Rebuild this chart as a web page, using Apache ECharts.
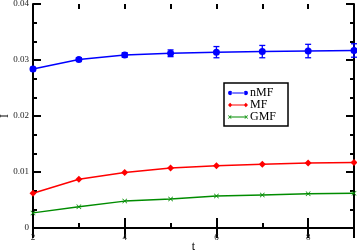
<!DOCTYPE html>
<html>
<head>
<meta charset="utf-8">
<script src="https://cdn.jsdelivr.net/npm/echarts@6/dist/echarts.min.js"></script>
<style>
html,body{margin:0;padding:0;background:#fff;}
#chart{width:357px;height:251px;}
</style>
</head>
<body>
<div id="chart"></div>
<script>
// ---- data ----
const tValues = [2, 3, 4, 5, 6, 7, 8, 9];
const nMF     = [0.0284, 0.0301, 0.0309, 0.0312, 0.0314, 0.0315, 0.0316, 0.0317];
const nMFErr  = [0.0003, 0.0003, 0.0004, 0.0006, 0.0010, 0.0011, 0.0012, 0.0012];
const MF      = [0.0062, 0.0087, 0.0099, 0.0107, 0.0111, 0.0114, 0.0116, 0.0117];
const GMF     = [0.0027, 0.0038, 0.0048, 0.0052, 0.0057, 0.0059, 0.0061, 0.0062];
const seriesNames = ['nMF', 'MF', 'GMF'];
const xTickValues = [2, 4, 6, 8];
const xTickLabels = ['2', '4', '6', '8'];
const yTickValues = [0, 0.01, 0.02, 0.03, 0.04];
const yTickLabels = ['0', '0.01', '0.02', '0.03', '0.04'];
const xAxisName = 't';
const yAxisName = 'I';

const FONT = 'Liberation Serif';
const BLUE = '#0000ff', RED = '#ff0000', GREEN = '#008c00';

const pairs = (ys) => tValues.map((t, i) => [t, ys[i]]);
const errData = tValues.map((t, i) => [t, nMF[i], nMFErr[i]]);
const lookup = (vals, labels) => (v) => {
  const n = Number(v);
  for (let i = 0; i < vals.length; i++) if (Math.abs(vals[i] - n) < 1e-9) return labels[i];
  return '';
};

const xSymbol = 'path://M0,1 L1,0 L5,4 L9,0 L10,1 L6,5 L10,9 L9,10 L5,6 L1,10 L0,9 L4,5 Z';

const legIconN = 'path://M0,4 a3,3 0 1,0 6,0 a3,3 0 1,0 -6,0 Z M5,3.3 L23,3.3 L23,4.7 L5,4.7 Z M22,4 a3,3 0 1,0 6,0 a3,3 0 1,0 -6,0 Z';
const legIconM = 'path://M0,4 L3,1 L6,4 L3,7 Z M5,3.3 L23,3.3 L23,4.7 L5,4.7 Z M22,4 L25,1 L28,4 L25,7 Z';
const legIconG = 'path://M0,2 L1,1.4 L2.5,3.2 L4,1.4 L5,2 L3.3,4 L5,6 L4,6.6 L2.5,4.8 L1,6.6 L0,6 L1.7,4 Z M4,3.4 L24,3.4 L24,4.6 L4,4.6 Z M23,2 L24,1.4 L25.5,3.2 L27,1.4 L28,2 L26.3,4 L28,6 L27,6.6 L25.5,4.8 L24,6.6 L23,6 L24.7,4 Z';

const gridRect = {left: 33, top: 4, width: 321, height: 224, containLabel: false, outerBoundsMode: 'none'};

const axisLine = {show: true, lineStyle: {color: '#000', width: 2}};
const labelStyle = {fontFamily: FONT, fontSize: 9, color: '#222'};

const chart = echarts.init(document.getElementById('chart'), null, {renderer: 'canvas'});
chart.setOption({
  animation: false,
  backgroundColor: '#fff',
  grid: [Object.assign({}, gridRect), Object.assign({}, gridRect)],
  legend: {
    left: 224, top: 83,
    orient: 'vertical',
    padding: [4, 12, 3, 4],
    itemGap: 0,
    itemWidth: 20, itemHeight: 6,
    borderColor: '#000', borderWidth: 1.5, backgroundColor: '#fff',
    textStyle: {fontFamily: FONT, fontSize: 12, color: '#000', lineHeight: 10.5, padding: [0,0,0,-3]},
    data: [
      {name: seriesNames[0], icon: legIconN},
      {name: seriesNames[1], icon: legIconM},
      {name: seriesNames[2], icon: legIconG}
    ]
  },
  xAxis: [
    { // bottom, major ticks and axis name
      gridIndex: 0, type: 'value', position: 'bottom', min: 2, max: 9, interval: 2,
      axisLine: axisLine,
      axisTick: {show: true, inside: true, length: 10, lineStyle: {color: '#000', width: 2}},
      axisLabel: {show: false},
      splitLine: {show: false},
      name: xAxisName, nameLocation: 'middle', nameGap: 13, nameMoveOverlap: false,
      nameTextStyle: {fontFamily: FONT, fontSize: 12, color: '#000'}
    },
    { // top, major ticks
      gridIndex: 0, type: 'value', position: 'top', min: 2, max: 9, interval: 2,
      axisLine: axisLine,
      axisTick: {show: true, inside: true, length: 10, lineStyle: {color: '#000', width: 2}},
      axisLabel: {show: false}, splitLine: {show: false}
    },
    { // bottom minor ticks + tick labels
      gridIndex: 1, type: 'value', position: 'bottom', min: 2, max: 9, interval: 1,
      axisLine: {show: false},
      axisTick: {show: true, inside: true, length: 5, lineStyle: {color: '#000', width: 2}},
      axisLabel: {show: true, margin: 5, ...labelStyle, formatter: lookup(xTickValues, xTickLabels)},
      splitLine: {show: false}
    },
    { // top minor ticks
      gridIndex: 1, type: 'value', position: 'top', min: 2, max: 9, interval: 1,
      axisLine: {show: false},
      axisTick: {show: true, inside: true, length: 5, lineStyle: {color: '#000', width: 2}},
      axisLabel: {show: false}, splitLine: {show: false}
    }
  ],
  yAxis: [
    {
      gridIndex: 0, type: 'value', position: 'left', min: 0, max: 0.04, interval: 0.01,
      axisLine: axisLine,
      axisTick: {show: true, inside: true, length: 8, lineStyle: {color: '#000', width: 2}},
      minorTick: {show: true, splitNumber: 3, length: 4, lineStyle: {color: '#000', width: 2}},
      axisLabel: {show: true, margin: 4, ...labelStyle, formatter: lookup(yTickValues, yTickLabels)},
      splitLine: {show: false},
      name: yAxisName, nameLocation: 'middle', nameGap: 22, nameRotate: 90, nameMoveOverlap: false,
      nameTextStyle: {fontFamily: FONT, fontSize: 12, color: '#000'}
    },
    {
      gridIndex: 0, type: 'value', position: 'right', min: 0, max: 0.04, interval: 0.01,
      axisLine: axisLine,
      axisTick: {show: true, inside: true, length: 8, lineStyle: {color: '#000', width: 2}},
      minorTick: {show: true, splitNumber: 3, length: 4, lineStyle: {color: '#000', width: 2}},
      axisLabel: {show: false}, splitLine: {show: false}
    },
    {
      gridIndex: 1, type: 'value', min: 0, max: 0.04, show: false
    }
  ],
  series: [
    {
      name: seriesNames[0], type: 'line', xAxisIndex: 0, yAxisIndex: 0,
      data: pairs(nMF), symbol: 'circle', symbolSize: 7,
      lineStyle: {color: BLUE, width: 1.5}, itemStyle: {color: BLUE}, z: 3
    },
    {
      name: seriesNames[1], type: 'line', xAxisIndex: 0, yAxisIndex: 0,
      data: pairs(MF), symbol: 'diamond', symbolSize: 7,
      lineStyle: {color: RED, width: 1.5}, itemStyle: {color: RED}, z: 3
    },
    {
      name: seriesNames[2], type: 'line', xAxisIndex: 0, yAxisIndex: 0,
      data: pairs(GMF), symbol: xSymbol, symbolSize: 5,
      lineStyle: {color: GREEN, width: 1.5}, itemStyle: {color: GREEN}, z: 3
    },
    {
      name: 'nMF-err', type: 'custom', xAxisIndex: 0, yAxisIndex: 0,
      data: errData, z: 4,
      renderItem: function (params, api) {
        const x = api.value(0), y = api.value(1), e = api.value(2);
        const hi = api.coord([x, y + e]);
        const lo = api.coord([x, y - e]);
        const cw = 3;
        const st = {stroke: BLUE, lineWidth: 1.3};
        return {
          type: 'group',
          children: [
            {type: 'line', shape: {x1: hi[0], y1: hi[1], x2: lo[0], y2: lo[1]}, style: st},
            {type: 'line', shape: {x1: hi[0] - cw, y1: hi[1], x2: hi[0] + cw, y2: hi[1]}, style: st},
            {type: 'line', shape: {x1: lo[0] - cw, y1: lo[1], x2: lo[0] + cw, y2: lo[1]}, style: st}
          ]
        };
      }
    }
  ]
});
</script>
</body>
</html>
